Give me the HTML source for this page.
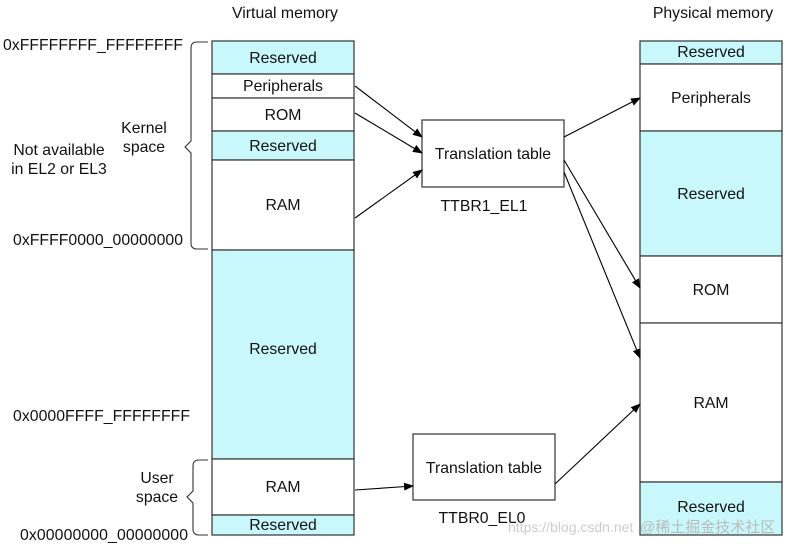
<!DOCTYPE html>
<html><head><style>body{margin:0;background:#fff}svg{display:block}text{font-family:"Liberation Sans",Arial,sans-serif;font-size:15.8px;fill:#111}</style></head><body>
<svg width="789" height="546" viewBox="0 0 789 546" xmlns="http://www.w3.org/2000/svg">
<defs><marker id="a" markerWidth="10" markerHeight="8" refX="9" refY="4" orient="auto" markerUnits="userSpaceOnUse"><path d="M0,0 L10,4 L0,8 z" fill="#000"/></marker></defs>
<g stroke="#333" stroke-width="1.2">
<rect x="212" y="41" width="142" height="33" fill="#c8f8fb"/>
<rect x="212" y="74" width="142" height="24" fill="#fff"/>
<rect x="212" y="98" width="142" height="33" fill="#fff"/>
<rect x="212" y="131" width="142" height="29" fill="#c8f8fb"/>
<rect x="212" y="160" width="142" height="90" fill="#fff"/>
<rect x="212" y="250" width="142" height="209" fill="#c8f8fb"/>
<rect x="212" y="459" width="142" height="56" fill="#fff"/>
<rect x="212" y="515" width="142" height="20" fill="#c8f8fb"/>
<rect x="640" y="41" width="142" height="23" fill="#c8f8fb"/>
<rect x="640" y="64" width="142" height="67" fill="#fff"/>
<rect x="640" y="131" width="142" height="125" fill="#c8f8fb"/>
<rect x="640" y="256" width="142" height="67" fill="#fff"/>
<rect x="640" y="323" width="142" height="159" fill="#fff"/>
<rect x="640" y="482" width="142" height="53" fill="#c8f8fb"/>
<rect x="422" y="120" width="142" height="67" fill="#fff"/>
<rect x="413" y="434" width="142" height="66" fill="#fff"/>
</g>
<g stroke="#000" stroke-width="1.1" fill="none" marker-end="url(#a)">
<line x1="355" y1="86" x2="422" y2="137"/>
<line x1="355" y1="113" x2="422" y2="153"/>
<line x1="355" y1="218" x2="422" y2="170"/>
<line x1="564" y1="137" x2="640" y2="98"/>
<line x1="564" y1="160" x2="640" y2="288"/>
<line x1="564" y1="172" x2="640" y2="358"/>
<line x1="355" y1="490" x2="413" y2="486"/>
<line x1="555" y1="484" x2="640" y2="404"/>
</g>
<g stroke="#333" stroke-width="1.1" fill="none">
<path d="M208,42 H197 Q191,42 191,48 V141 L185,147 L191,153 V243 Q191,249 197,249 H208"/>
<path d="M208,460 H199 Q193,460 193,466 V491 L187,497 L193,503 V529 Q193,535 199,535 H208"/>
</g>
<g text-anchor="middle">
<text x="285" y="18">Virtual memory</text>
<text x="713" y="18">Physical memory</text>
<text x="283" y="63">Reserved</text>
<text x="283" y="91">Peripherals</text>
<text x="283" y="120">ROM</text>
<text x="283" y="151">Reserved</text>
<text x="283" y="210">RAM</text>
<text x="283" y="354">Reserved</text>
<text x="283" y="492">RAM</text>
<text x="283" y="530">Reserved</text>
<text x="711" y="57">Reserved</text>
<text x="711" y="103">Peripherals</text>
<text x="711" y="199">Reserved</text>
<text x="711" y="295">ROM</text>
<text x="711" y="408">RAM</text>
<text x="711" y="512">Reserved</text>
<text x="493" y="159">Translation table</text>
<text x="484" y="473">Translation table</text>
<text x="484" y="211">TTBR1_EL1</text>
<text x="482" y="523">TTBR0_EL0</text>
<text x="144" y="133">Kernel</text>
<text x="144" y="152">space</text>
<text x="59" y="155">Not available</text>
<text x="59" y="174">in EL2 or EL3</text>
<text x="157" y="483">User</text>
<text x="157" y="502">space</text>
</g>
<text x="3" y="50" textLength="180">0xFFFFFFFF_FFFFFFFF</text>
<text x="13" y="245" textLength="170">0xFFFF0000_00000000</text>
<text x="13" y="421" textLength="177">0x0000FFFF_FFFFFFFF</text>
<text x="20" y="540" textLength="168">0x00000000_00000000</text>
<text x="508" y="532" style="fill:#ccc;font-size:14px">https://blog.csdn.net</text>
<text x="640" y="532" style="fill:#bbb;font-size:15px;font-family:'Liberation Sans','Noto Sans CJK SC',sans-serif">@稀土掘金技术社区</text>
</svg>
</body></html>
